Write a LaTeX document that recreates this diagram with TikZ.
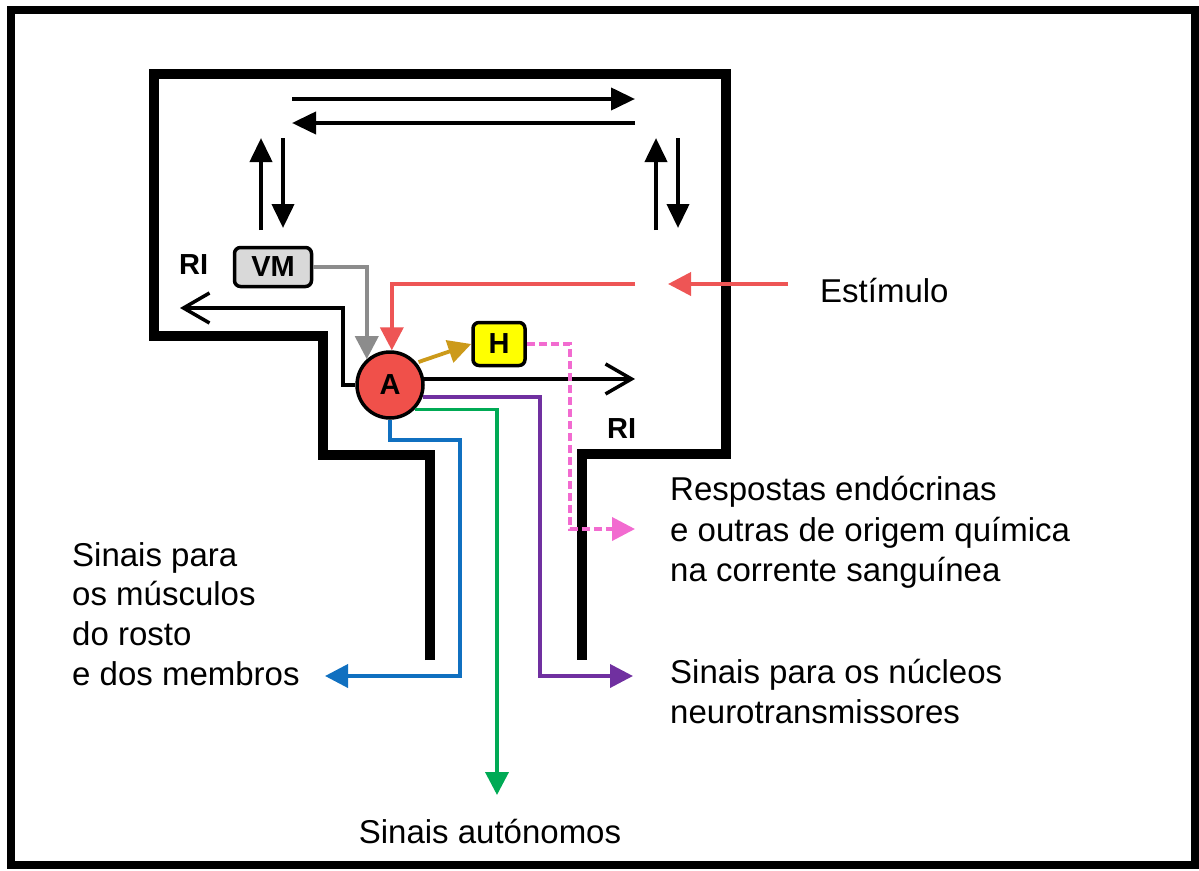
\documentclass[tikz,border=0pt]{standalone}
\usepackage{fontspec}
\setmainfont{Liberation Sans}
\usetikzlibrary{arrows.meta,calc}
\definecolor{cRed}{HTML}{EE5555}
\definecolor{cAfill}{HTML}{F0504A}
\definecolor{cGray}{HTML}{8C8C8C}
\definecolor{cVM}{HTML}{D9D9D9}
\definecolor{cYel}{HTML}{FFFF00}
\definecolor{cGold}{HTML}{CC9A1A}
\definecolor{cPink}{HTML}{F26BD0}
\definecolor{cPurple}{HTML}{7030A0}
\definecolor{cGreen}{HTML}{00AA55}
\definecolor{cBlue}{HTML}{1070C0}
\tikzset{
  wall/.style={line width=10pt, line join=miter},
  blk/.style={line width=4pt, -{Triangle[length=24pt,width=22pt]}},
  openarr/.style={line width=3.5pt, -{Straight Barb[length=26pt,width=30pt,line width=3.5pt]}},
  col/.style={line width=3.8pt, -{Triangle[length=23pt,width=23pt]}},
  lbl/.style={font=\fontsize{33}{40}\selectfont, anchor=base west, inner sep=0pt},
  boldlbl/.style={font=\fontsize{29}{34}\selectfont\bfseries, inner sep=0pt},
  box/.style={draw=black, line width=3.5pt, rounded corners=6pt, font=\fontsize{29}{34}\selectfont\bfseries, inner sep=0pt},
}
\begin{document}
\begin{tikzpicture}[x=1pt,y=-1pt]
\useasboundingbox (0,0) rectangle (1199,870);
\draw[line width=8pt] (11,10) rectangle (1195,865);
% brain outline
\draw[wall] (430,660) -- (430,455) -- (323,455) -- (323,336) -- (154,336) -- (154,74)
  -- (726,74) -- (726,454) -- (582,454) -- (582,660);
% top loop arrows
\coordinate (t1a) at (292,99);  \coordinate (t1b) at (635,99);
\coordinate (t2a) at (635,123); \coordinate (t2b) at (292,123);
\coordinate (l1a) at (261,230); \coordinate (l1b) at (261,138);
\coordinate (l2a) at (283,138); \coordinate (l2b) at (283,228);
\coordinate (r1a) at (656,230); \coordinate (r1b) at (656,138);
\coordinate (r2a) at (678,138); \coordinate (r2b) at (678,228);
\draw[blk] (t1a) -- (t1b);
\draw[blk] (t2a) -- (t2b);
\draw[blk] (l1a) -- (l1b);
\draw[blk] (l2a) -- (l2b);
\draw[blk] (r1a) -- (r1b);
\draw[blk] (r2a) -- (r2b);
% nodes
\node[box, fill=cVM, minimum width=77pt, minimum height=39pt] (VM) at (273,267) {VM};
\node[box, fill=cYel, minimum width=52pt, minimum height=43pt] (H) at (499,344) {H};
\node[circle, draw=black, line width=3.5pt, fill=cAfill, minimum size=66pt, inner sep=0pt,
      font=\fontsize{29}{34}\selectfont\bfseries] (A) at (390,385) {A};
% labels
\node[boldlbl, anchor=base west] (RI1) at (179,274) {RI};
\node[boldlbl, anchor=base west] (RI2) at (607,438) {RI};
\node[lbl] (est) at (820,302) {Estímulo};
\node[lbl] (m1) at (72,566) {Sinais para};
\node[lbl] (m2) at (72,605) {os músculos};
\node[lbl] (m3) at (72,645) {do rosto};
\node[lbl] (m4) at (72,685) {e dos membros};
\node[lbl] (e1) at (670,500) {Respostas endócrinas};
\node[lbl] (e2) at (670,541) {e outras de origem química};
\node[lbl] (e3) at (670,581) {na corrente sanguínea};
\node[lbl] (n1) at (670,683) {Sinais para os núcleos};
\node[lbl] (n2) at (670,723) {neurotransmissores};
\node[lbl, anchor=base] (aut) at (490,843) {Sinais autónomos};
% coordinates for free ends
\coordinate (stimA) at (788,284);
\coordinate (stimB) at (668,284);
\coordinate (redStart) at (635,284);
\coordinate (kneeL) at (343,308);
\coordinate (riL) at (180,308);
\coordinate (riR) at (635,379);
\coordinate (pinkKnee) at (570,529);
\coordinate (pinkEnd) at (635,529);
\coordinate (purKnee) at (540,676);
\coordinate (purEnd) at (633,676);
\coordinate (grnEnd) at (497,795);
\coordinate (bluKnee) at (460,440);
\coordinate (bluEnd) at (325,676);
% connectors
\draw[col, draw=cRed] (stimA) -- (stimB);
\draw[col, draw=cGray] (VM.east) -| (A.132);
\draw[col, draw=cRed] (redStart) -| (A.87);
\draw[openarr] (A.west) -| (kneeL) -- (riL);
\draw[openarr] (A.10) -- (A.10 -| riR);
\draw[col, draw=cGold, shorten <=2pt] (A.40) -- (H.west);
\draw[line width=3.5pt, draw=cPink, dash pattern=on 8pt off 4pt] (H.east) -| (pinkKnee) -- ($(pinkEnd)+(-22,0)$);
\draw[col, draw=cPink] ($(pinkEnd)+(-24,0)$) -- (pinkEnd);
\draw[col, draw=cPurple] (A.-20) -| (purKnee) -- (purEnd);
\draw[col, draw=cGreen] (A.-45) -| (grnEnd);
\draw[col, draw=cBlue] (A.south) |- (bluKnee) |- (bluEnd);
\end{tikzpicture}
\end{document}
